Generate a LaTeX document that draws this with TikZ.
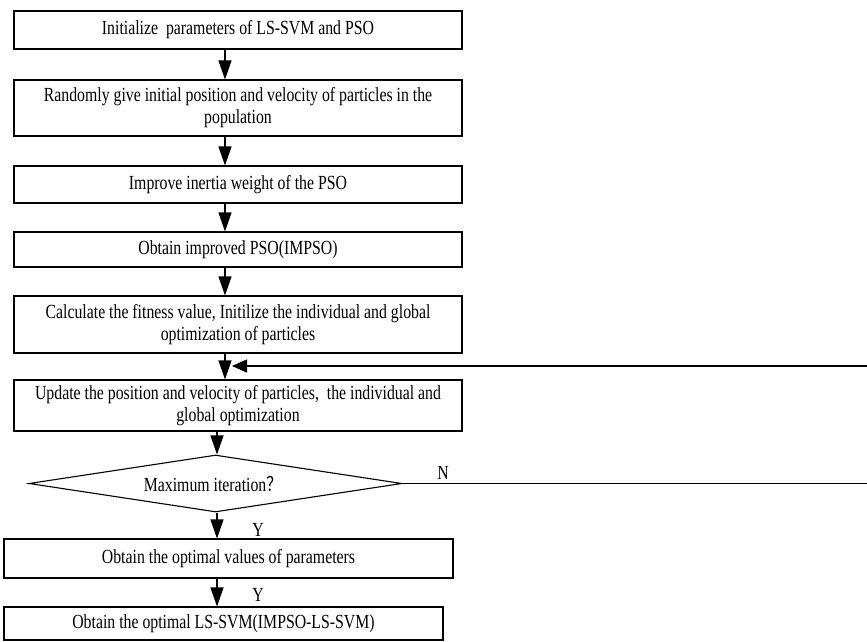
\documentclass[tikz,border=0pt]{standalone}
\usepackage{fontspec}
\setmainfont[FakeStretch=0.79]{Liberation Serif}
\newfontfamily\cjk[FakeStretch=0.79]{Noto Sans CJK SC}
\usetikzlibrary{arrows.meta,shapes.geometric}
\begin{document}
\begin{tikzpicture}[x=1pt,y=-1pt,
  every node/.style={font=\fontsize{20}{22}\selectfont},
  box/.style={draw,line width=1.1pt,rectangle,inner sep=0pt,align=center},
  arr/.style={line width=1.1pt,-{Triangle[length=19pt,width=13pt]}},
  farr/.style={line width=1.1pt,-{Triangle[length=15pt,width=13pt]}},
  lbl/.style={inner sep=0pt}]
\useasboundingbox (0,0) rectangle (867,642);
\node[box,minimum width=448pt,minimum height=38pt] (b1) at (238,30) {Initialize\ \ parameters of LS-SVM and PSO};
\node[box,minimum width=448pt,minimum height=56pt] (b2) at (238,108) {Randomly give initial position and velocity of particles in the\\population};
\node[box,minimum width=448pt,minimum height=37pt] (b3) at (238,184.5) {Improve inertia weight of the PSO};
\node[box,minimum width=448pt,minimum height=35pt] (b4) at (238,249.5) {Obtain improved PSO(IMPSO)};
\node[box,minimum width=448pt,minimum height=57pt] (b5) at (238,324.5) {Calculate the fitness value, Initilize the individual and global\\optimization of particles};
\node[box,minimum width=448pt,minimum height=51pt] (b6) at (238,405.5) {Update the position and velocity of particles,\ \ the individual and\\global optimization};
\node[draw,line width=1.1pt,diamond,inner sep=0pt,minimum width=373pt,minimum height=57pt] (d) at (215.5,483.5) {};
\node[lbl] (dt) at (213,484) {Maximum iteration{\cjk ？}};
\node[box,minimum width=449pt,minimum height=39pt] (b7) at (228.5,558.5) {Obtain the optimal values of parameters};
\node[box,minimum width=439pt,minimum height=33pt] (b8) at (223.5,623.5) {Obtain the optimal LS-SVM(IMPSO-LS-SVM)};
\coordinate (xa) at (225,0);
\coordinate (xb) at (217,0);
\draw[arr] (b1.south -| xa) -- (b2.north -| xa);
\draw[arr] (b2.south -| xa) -- (b3.north -| xa);
\draw[arr] (b3.south -| xa) -- (b4.north -| xa);
\draw[arr] (b4.south -| xa) -- (b5.north -| xa);
\draw[arr] (b5.south -| xa) -- (b6.north -| xa);
\draw[arr] (b6.south -| xb) -- (d.north -| xb);
\draw[arr] (d.south -| xb) -- (b7.north -| xb);
\draw[arr] (b7.south -| xb) -- (b8.north -| xb);
\coordinate (nR) at (880,483.5);
\coordinate (fR) at (880,366);
\coordinate (ftip) at (232,366);
\draw[line width=1.1pt] (d.east) -- (nR) -- (fR);
\draw[farr] (fR) -- (ftip);
\node[lbl] (nl) at (443,473) {N};
\node[lbl] (y1) at (258,530) {Y};
\node[lbl] (y2) at (258,595) {Y};
\end{tikzpicture}
\end{document}
